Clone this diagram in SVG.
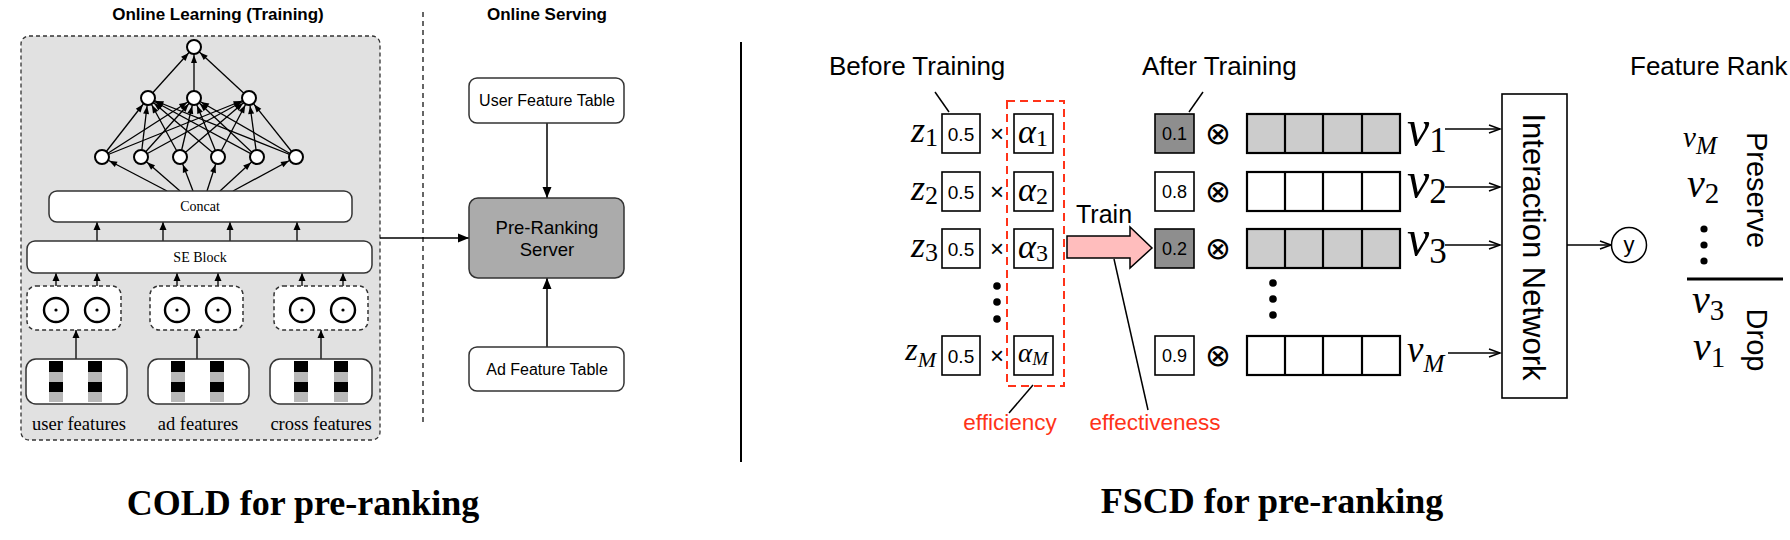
<svg xmlns="http://www.w3.org/2000/svg" width="1790" height="540" viewBox="0 0 1790 540">
<defs>
<style>
.sans{font-family:"Liberation Sans",Arial,sans-serif}
.serif{font-family:"Liberation Serif","Times New Roman",serif}
.math{font-family:"Liberation Serif","Times New Roman",serif;font-style:italic}
.up{font-style:normal}
.nn{stroke:#000;stroke-width:1.3;fill:none}
.node{fill:#fff;stroke:#000;stroke-width:2}
.odot{fill:#fff;stroke:#000;stroke-width:2.4}
.box{fill:#fff;stroke:#333;stroke-width:1.5}
.dash{stroke-dasharray:4,3}
.ln{stroke:#000;stroke-width:1.5;fill:none}
.cell{stroke:#000;stroke-width:2.2}
.wb{stroke:#000;stroke-width:1.6}
.red{fill:#ff3319}
.blk{fill:#000}
.gry{fill:#b8b8b8}
</style>
<marker id="aN" markerUnits="userSpaceOnUse" markerWidth="20" markerHeight="6" refX="16" refY="3" orient="auto" overflow="visible"><path d="M0,0 L8,3 L0,6 z" fill="#000"/></marker>
<marker id="aT" markerUnits="userSpaceOnUse" markerWidth="8" markerHeight="7" refX="8" refY="3.5" orient="auto" overflow="visible"><path d="M0,0 L8,3.5 L0,7 z" fill="#000"/></marker>
<marker id="aS" markerUnits="userSpaceOnUse" markerWidth="11" markerHeight="9" refX="11" refY="4.5" orient="auto" overflow="visible"><path d="M0,0 L11,4.5 L0,9 z" fill="#000"/></marker>
<marker id="aO" markerUnits="userSpaceOnUse" markerWidth="13" markerHeight="10" refX="12" refY="5" orient="auto" overflow="visible"><path d="M1,1 L12,5 L1,9" fill="none" stroke="#000" stroke-width="1.5"/></marker>
</defs>
<rect x="0" y="0" width="1790" height="540" fill="#fff"/>

<g id="cold-panel">
<rect x="21" y="36" width="359" height="404" rx="8" fill="#e1e1e1" stroke="#333" stroke-width="1.3" class="dash"/>
<text class="sans" font-weight="bold" font-size="17" x="218" y="20" text-anchor="middle">Online Learning (Training)</text>
<text class="sans" font-weight="bold" font-size="17" x="547" y="20" text-anchor="middle">Online Serving</text>
<line x1="423" y1="12" x2="423" y2="422" stroke="#333" stroke-width="1.5" stroke-dasharray="5,4"/>
<line x1="741" y1="42" x2="741" y2="462" stroke="#000" stroke-width="2"/>
<text class="serif" font-weight="bold" font-size="36" x="303" y="515" text-anchor="middle">COLD for pre-ranking</text>
<text class="serif" font-weight="bold" font-size="36" x="1272" y="513" text-anchor="middle">FSCD for pre-ranking</text>
</g>

<g id="connectors">
<line class="nn" x1="148" y1="98" x2="194" y2="47" marker-end="url(#aN)"/>
<line class="nn" x1="194" y1="98" x2="194" y2="47" marker-end="url(#aN)"/>
<line class="nn" x1="249" y1="98" x2="194" y2="47" marker-end="url(#aN)"/>
<line class="nn" x1="102" y1="157" x2="148" y2="98" marker-end="url(#aN)"/>
<line class="nn" x1="102" y1="157" x2="194" y2="98" marker-end="url(#aN)"/>
<line class="nn" x1="102" y1="157" x2="249" y2="98" marker-end="url(#aN)"/>
<line class="nn" x1="141" y1="157" x2="148" y2="98" marker-end="url(#aN)"/>
<line class="nn" x1="141" y1="157" x2="194" y2="98" marker-end="url(#aN)"/>
<line class="nn" x1="141" y1="157" x2="249" y2="98" marker-end="url(#aN)"/>
<line class="nn" x1="180" y1="157" x2="148" y2="98" marker-end="url(#aN)"/>
<line class="nn" x1="180" y1="157" x2="194" y2="98" marker-end="url(#aN)"/>
<line class="nn" x1="180" y1="157" x2="249" y2="98" marker-end="url(#aN)"/>
<line class="nn" x1="218" y1="157" x2="148" y2="98" marker-end="url(#aN)"/>
<line class="nn" x1="218" y1="157" x2="194" y2="98" marker-end="url(#aN)"/>
<line class="nn" x1="218" y1="157" x2="249" y2="98" marker-end="url(#aN)"/>
<line class="nn" x1="257" y1="157" x2="148" y2="98" marker-end="url(#aN)"/>
<line class="nn" x1="257" y1="157" x2="194" y2="98" marker-end="url(#aN)"/>
<line class="nn" x1="257" y1="157" x2="249" y2="98" marker-end="url(#aN)"/>
<line class="nn" x1="296" y1="157" x2="148" y2="98" marker-end="url(#aN)"/>
<line class="nn" x1="296" y1="157" x2="194" y2="98" marker-end="url(#aN)"/>
<line class="nn" x1="296" y1="157" x2="249" y2="98" marker-end="url(#aN)"/>
<line class="nn" x1="167" y1="191" x2="102" y2="157" marker-end="url(#aN)"/>
<line class="nn" x1="180" y1="191" x2="141" y2="157" marker-end="url(#aN)"/>
<line class="nn" x1="193" y1="191" x2="180" y2="157" marker-end="url(#aN)"/>
<line class="nn" x1="207" y1="191" x2="218" y2="157" marker-end="url(#aN)"/>
<line class="nn" x1="220" y1="191" x2="257" y2="157" marker-end="url(#aN)"/>
<line class="nn" x1="233" y1="191" x2="296" y2="157" marker-end="url(#aN)"/>
<line class="nn" x1="97" y1="241" x2="97" y2="222" marker-end="url(#aT)"/>
<line class="nn" x1="163" y1="241" x2="163" y2="222" marker-end="url(#aT)"/>
<line class="nn" x1="230" y1="241" x2="230" y2="222" marker-end="url(#aT)"/>
<line class="nn" x1="297" y1="241" x2="297" y2="222" marker-end="url(#aT)"/>
<line class="nn" x1="56" y1="298" x2="56" y2="273" marker-end="url(#aT)"/>
<line class="nn" x1="97" y1="298" x2="97" y2="273" marker-end="url(#aT)"/>
<line class="nn" x1="177" y1="298" x2="177" y2="273" marker-end="url(#aT)"/>
<line class="nn" x1="218" y1="298" x2="218" y2="273" marker-end="url(#aT)"/>
<line class="nn" x1="302" y1="298" x2="302" y2="273" marker-end="url(#aT)"/>
<line class="nn" x1="343" y1="298" x2="343" y2="273" marker-end="url(#aT)"/>
<line class="nn" x1="76" y1="359" x2="76" y2="330" marker-end="url(#aT)"/>
<line class="nn" x1="197" y1="359" x2="197" y2="330" marker-end="url(#aT)"/>
<line class="nn" x1="321" y1="359" x2="321" y2="330" marker-end="url(#aT)"/>
<line class="ln" x1="547" y1="123" x2="547" y2="198" marker-end="url(#aS)"/>
<line class="ln" x1="547" y1="347" x2="547" y2="278" marker-end="url(#aS)"/>
<line class="ln" x1="380" y1="238" x2="469" y2="238" marker-end="url(#aS)"/>
<line class="ln" x1="1445" y1="129" x2="1500" y2="129" marker-end="url(#aO)"/>
<line class="ln" x1="1445" y1="187" x2="1500" y2="187" marker-end="url(#aO)"/>
<line class="ln" x1="1445" y1="245" x2="1500" y2="245" marker-end="url(#aO)"/>
<line class="ln" x1="1448" y1="353" x2="1500" y2="353" marker-end="url(#aO)"/>
<line class="ln" x1="1567" y1="245" x2="1611" y2="245" marker-end="url(#aO)"/>
<line class="ln" x1="935" y1="92" x2="949" y2="112"/>
<line class="ln" x1="1203" y1="92" x2="1189" y2="112"/>
<line class="ln" x1="1033" y1="385" x2="1009" y2="413"/>
<line class="ln" x1="1114" y1="259" x2="1148" y2="410"/>
</g>

<g id="nn-nodes">
<circle class="node" cx="194" cy="47" r="7"/>
<circle class="node" cx="148" cy="98" r="7"/>
<circle class="node" cx="194" cy="98" r="7"/>
<circle class="node" cx="249" cy="98" r="7"/>
<circle class="node" cx="102" cy="157" r="7"/>
<circle class="node" cx="141" cy="157" r="7"/>
<circle class="node" cx="180" cy="157" r="7"/>
<circle class="node" cx="218" cy="157" r="7"/>
<circle class="node" cx="257" cy="157" r="7"/>
<circle class="node" cx="296" cy="157" r="7"/>
</g>

<g id="concat">
<rect class="box" x="49" y="191" width="303" height="31" rx="8"/>
<text class="serif" font-size="14" x="200" y="211" text-anchor="middle">Concat</text>
</g>
<g id="se-block">
<rect class="box" x="27" y="241" width="345" height="32" rx="8"/>
<text class="serif" font-size="14" x="200" y="262" text-anchor="middle">SE Block</text>
</g>

<g id="odot-user">
<rect class="box dash" x="27" y="286" width="94" height="44" rx="9" stroke-width="1.3"/>
<circle class="odot" cx="56" cy="310" r="12"/><circle class="blk" cx="56" cy="310" r="1.6"/>
<circle class="odot" cx="97" cy="310" r="12"/><circle class="blk" cx="97" cy="310" r="1.6"/>
</g>
<g id="odot-ad">
<rect class="box dash" x="150" y="286" width="93" height="44" rx="9" stroke-width="1.3"/>
<circle class="odot" cx="177" cy="310" r="12"/><circle class="blk" cx="177" cy="310" r="1.6"/>
<circle class="odot" cx="218" cy="310" r="12"/><circle class="blk" cx="218" cy="310" r="1.6"/>
</g>
<g id="odot-cross">
<rect class="box dash" x="274" y="286" width="94" height="44" rx="9" stroke-width="1.3"/>
<circle class="odot" cx="302" cy="310" r="12"/><circle class="blk" cx="302" cy="310" r="1.6"/>
<circle class="odot" cx="343" cy="310" r="12"/><circle class="blk" cx="343" cy="310" r="1.6"/>
</g>

<g id="user-features">
<rect class="box" x="26" y="359" width="101" height="45" rx="10"/>
<rect class="blk" x="49" y="361" width="14" height="11"/><rect class="gry" x="49" y="372" width="14" height="10"/><rect class="blk" x="49" y="382" width="14" height="10"/><rect class="gry" x="49" y="392" width="14" height="10"/>
<rect class="blk" x="88" y="361" width="14" height="11"/><rect class="gry" x="88" y="372" width="14" height="10"/><rect class="blk" x="88" y="382" width="14" height="10"/><rect class="gry" x="88" y="392" width="14" height="10"/>
<text class="serif" font-size="18.5" x="79" y="430" text-anchor="middle">user features</text>
</g>
<g id="ad-features">
<rect class="box" x="148" y="359" width="101" height="45" rx="10"/>
<rect class="blk" x="171" y="361" width="14" height="11"/><rect class="gry" x="171" y="372" width="14" height="10"/><rect class="blk" x="171" y="382" width="14" height="10"/><rect class="gry" x="171" y="392" width="14" height="10"/>
<rect class="blk" x="210" y="361" width="14" height="11"/><rect class="gry" x="210" y="372" width="14" height="10"/><rect class="blk" x="210" y="382" width="14" height="10"/><rect class="gry" x="210" y="392" width="14" height="10"/>
<text class="serif" font-size="18.5" x="198" y="430" text-anchor="middle">ad features</text>
</g>
<g id="cross-features">
<rect class="box" x="270" y="359" width="102" height="45" rx="10"/>
<rect class="blk" x="294" y="361" width="14" height="11"/><rect class="gry" x="294" y="372" width="14" height="10"/><rect class="blk" x="294" y="382" width="14" height="10"/><rect class="gry" x="294" y="392" width="14" height="10"/>
<rect class="blk" x="334" y="361" width="14" height="11"/><rect class="gry" x="334" y="372" width="14" height="10"/><rect class="blk" x="334" y="382" width="14" height="10"/><rect class="gry" x="334" y="392" width="14" height="10"/>
<text class="serif" font-size="18.5" x="321" y="430" text-anchor="middle">cross features</text>
</g>

<g id="user-feature-table">
<rect class="box" x="469" y="78" width="155" height="45" rx="8"/>
<text class="sans" font-size="16" x="547" y="106" text-anchor="middle">User Feature Table</text>
</g>
<g id="pre-ranking-server">
<rect x="469" y="198" width="155" height="80" rx="9" fill="#ababab" stroke="#333" stroke-width="1.5"/>
<text class="sans" font-size="18.5" x="547" y="234" text-anchor="middle">Pre-Ranking</text>
<text class="sans" font-size="18.5" x="547" y="256" text-anchor="middle">Server</text>
</g>
<g id="ad-feature-table">
<rect class="box" x="469" y="347" width="155" height="44" rx="8"/>
<text class="sans" font-size="16" x="547" y="375" text-anchor="middle">Ad Feature Table</text>
</g>

<g id="labels">
<text class="sans" font-size="26" x="829" y="75">Before Training</text>
<text class="sans" font-size="26" x="1142" y="75">After Training</text>
<text class="sans" font-size="26" x="1630" y="75">Feature Rank</text>
<text class="sans" font-size="25" x="1076" y="223">Train</text>
<text class="sans red" font-size="22.5" x="1010" y="430" text-anchor="middle">efficiency</text>
<text class="sans red" font-size="22.5" x="1155" y="430" text-anchor="middle">effectiveness</text>
</g>

<g id="before-training">
<text class="math" font-size="36" x="938" y="142" text-anchor="end">z<tspan class="up" font-size="26" dy="4">1</tspan></text>
<text class="math" font-size="36" x="938" y="200" text-anchor="end">z<tspan class="up" font-size="26" dy="4">2</tspan></text>
<text class="math" font-size="36" x="938" y="257" text-anchor="end">z<tspan class="up" font-size="26" dy="4">3</tspan></text>
<text class="math" font-size="32" x="936" y="360" text-anchor="end">z<tspan font-size="22" dy="7">M</tspan></text>
<rect class="wb" fill="#fff" x="942" y="114" width="38" height="39"/>
<rect class="wb" fill="#fff" x="942" y="172" width="38" height="39"/>
<rect class="wb" fill="#fff" x="942" y="229" width="38" height="39"/>
<rect class="wb" fill="#fff" x="942" y="336" width="38" height="39"/>
<text class="sans" font-size="19" x="961" y="141" text-anchor="middle">0.5</text>
<text class="sans" font-size="19" x="961" y="199" text-anchor="middle">0.5</text>
<text class="sans" font-size="19" x="961" y="256" text-anchor="middle">0.5</text>
<text class="sans" font-size="19" x="961" y="363" text-anchor="middle">0.5</text>
<text class="sans" font-size="24" x="997" y="142" text-anchor="middle">×</text>
<text class="sans" font-size="24" x="997" y="200" text-anchor="middle">×</text>
<text class="sans" font-size="24" x="997" y="257" text-anchor="middle">×</text>
<text class="sans" font-size="24" x="997" y="364" text-anchor="middle">×</text>
<circle class="blk" cx="997" cy="286" r="3.8"/>
<circle class="blk" cx="997" cy="302" r="3.8"/>
<circle class="blk" cx="997" cy="319" r="3.8"/>
</g>

<g id="alpha-gates">
<rect x="1007" y="101" width="57" height="285" fill="none" stroke="#ff3319" stroke-width="2" stroke-dasharray="8,5"/>
<rect class="wb" fill="#fff" x="1014" y="114" width="39" height="39"/>
<rect class="wb" fill="#fff" x="1014" y="172" width="39" height="39"/>
<rect class="wb" fill="#fff" x="1014" y="229" width="39" height="39"/>
<rect class="wb" fill="#fff" x="1014" y="336" width="39" height="39"/>
<text class="math" font-size="34" x="1033" y="143" text-anchor="middle">α<tspan class="up" font-size="24" dy="3">1</tspan></text>
<text class="math" font-size="34" x="1033" y="201" text-anchor="middle">α<tspan class="up" font-size="24" dy="3">2</tspan></text>
<text class="math" font-size="34" x="1033" y="258" text-anchor="middle">α<tspan class="up" font-size="24" dy="3">3</tspan></text>
<text class="math" font-size="27" x="1033" y="362" text-anchor="middle">α<tspan font-size="19" dy="3">M</tspan></text>
</g>

<g id="train-arrow">
<polygon points="1067,236 1130,236 1130,227 1152,248 1130,268 1130,258 1067,258" fill="#ffbdbd" stroke="#000" stroke-width="1.5"/>
</g>

<g id="after-training">
<rect class="wb" fill="#8e8e8e" x="1155" y="114" width="39" height="39"/>
<rect class="wb" fill="#fff" x="1155" y="172" width="39" height="39"/>
<rect class="wb" fill="#8e8e8e" x="1155" y="229" width="39" height="39"/>
<rect class="wb" fill="#fff" x="1155" y="336" width="39" height="39"/>
<text class="sans" font-size="18" x="1174.5" y="140" text-anchor="middle">0.1</text>
<text class="sans" font-size="18" x="1174.5" y="198" text-anchor="middle">0.8</text>
<text class="sans" font-size="18" x="1174.5" y="255" text-anchor="middle">0.2</text>
<text class="sans" font-size="18" x="1174.5" y="362" text-anchor="middle">0.9</text>
<text font-family="DejaVu Sans,sans-serif" font-size="31" x="1218" y="144" text-anchor="middle">⊗</text>
<text font-family="DejaVu Sans,sans-serif" font-size="31" x="1218" y="202" text-anchor="middle">⊗</text>
<text font-family="DejaVu Sans,sans-serif" font-size="31" x="1218" y="259" text-anchor="middle">⊗</text>
<text font-family="DejaVu Sans,sans-serif" font-size="31" x="1218" y="366" text-anchor="middle">⊗</text>
</g>

<g id="embeddings">
<rect class="cell" fill="#cccccc" x="1247" y="114" width="153" height="39"/>
<rect class="cell" fill="#fff" x="1247" y="172" width="153" height="39"/>
<rect class="cell" fill="#cccccc" x="1247" y="229" width="153" height="39"/>
<rect class="cell" fill="#fff" x="1247" y="336" width="153" height="39"/>
<path class="cell" d="M1285,114V153M1323,114V153M1362,114V153M1285,172V211M1323,172V211M1362,172V211M1285,229V268M1323,229V268M1362,229V268M1285,336V375M1323,336V375M1362,336V375"/>
<circle class="blk" cx="1273" cy="283" r="3.8"/>
<circle class="blk" cx="1273" cy="299" r="3.8"/>
<circle class="blk" cx="1273" cy="315" r="3.8"/>
<text class="math" font-size="50" x="1407" y="145">v<tspan class="up" font-size="35" dy="7">1</tspan></text>
<text class="math" font-size="50" x="1407" y="197">v<tspan class="up" font-size="35" dy="6">2</tspan></text>
<text class="math" font-size="50" x="1407" y="255">v<tspan class="up" font-size="35" dy="8">3</tspan></text>
<text class="math" font-size="37" x="1407" y="362">v<tspan font-size="25" dy="10">M</tspan></text>
</g>

<g id="interaction-network">
<rect x="1502" y="94" width="65" height="304" fill="#fff" stroke="#000" stroke-width="1.6"/>
<text class="sans" font-size="31" transform="translate(1523,247) rotate(90)" text-anchor="middle">Interaction Network</text>
</g>
<g id="output-y">
<circle cx="1629" cy="245" r="17.5" fill="#fff" stroke="#000" stroke-width="1.5"/>
<text class="sans" font-size="22" x="1629" y="252" text-anchor="middle">y</text>
</g>

<g id="feature-rank">
<text class="math" font-size="29" x="1683" y="147">v<tspan font-size="25" dy="7">M</tspan></text>
<text class="math" font-size="40" x="1687" y="197">v<tspan class="up" font-size="29" dy="6">2</tspan></text>
<circle class="blk" cx="1704" cy="229" r="3.6"/>
<circle class="blk" cx="1704" cy="245" r="3.6"/>
<circle class="blk" cx="1704" cy="261" r="3.6"/>
<line x1="1687" y1="279" x2="1783" y2="279" stroke="#000" stroke-width="3"/>
<text class="math" font-size="40" x="1692" y="313">v<tspan class="up" font-size="29" dy="7">3</tspan></text>
<text class="math" font-size="40" x="1693" y="360">v<tspan class="up" font-size="29" dy="7">1</tspan></text>
<text class="sans" font-size="29" transform="translate(1747,190) rotate(90)" text-anchor="middle">Preserve</text>
<text class="sans" font-size="29" transform="translate(1747,340) rotate(90)" text-anchor="middle">Drop</text>
</g>
</svg>
